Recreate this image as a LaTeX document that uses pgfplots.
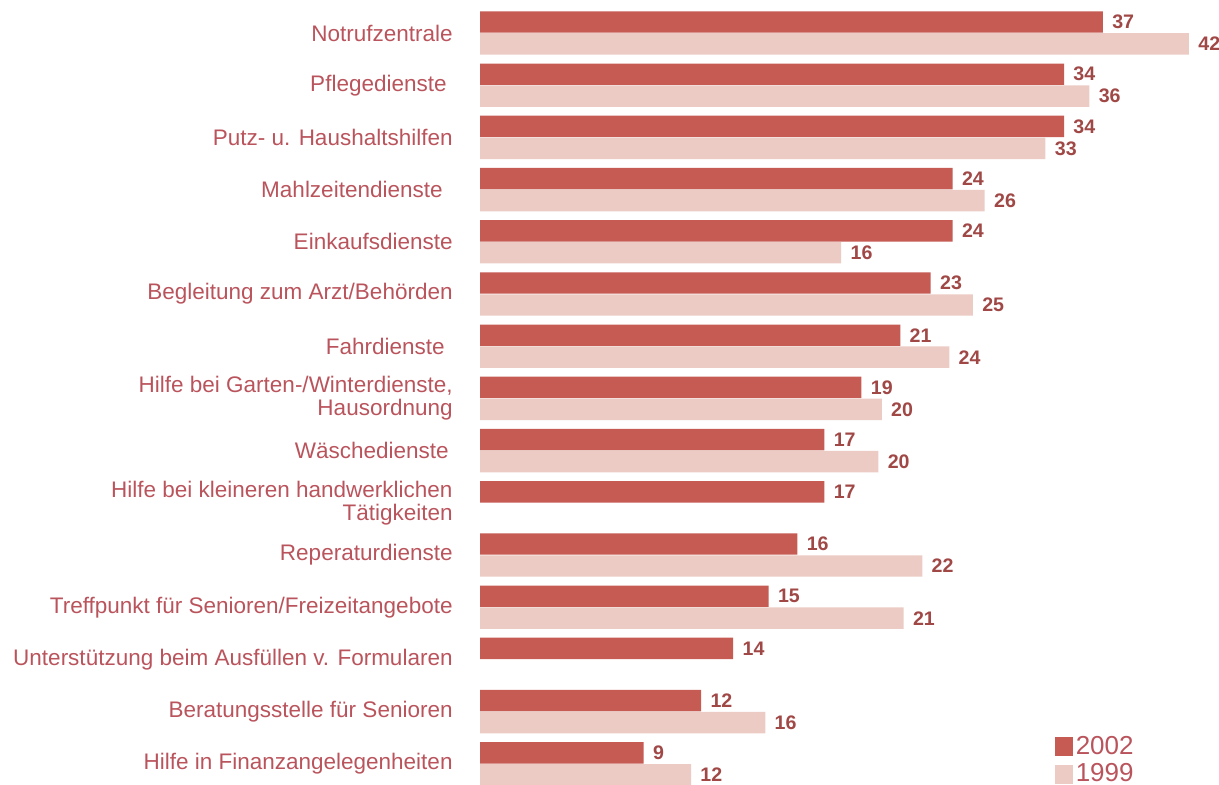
\documentclass[border=0pt]{standalone}
\usepackage{pgfplots}
\usepackage{pgfplotstable}
\pgfplotsset{compat=1.18}
\usepackage{fontspec}
\setmainfont{Liberation Sans}
\definecolor{barA}{RGB}{197,91,83}
\definecolor{barB}{RGB}{235,203,195}
\definecolor{lbl}{RGB}{186,84,92}
\definecolor{val}{RGB}{160,72,70}
\pgfplotstableread{
pos len lab
0 36.9 37
1 34.6 34
2 34.6 34
3 28.0 24
4 28.0 24
5 26.7 23
6 24.9 21
7 22.6 19
8 20.4 17
9 20.4 17
10 18.8 16
11 17.1 15
12 15.0 14
13 13.1 12
14 9.7 9
}\tA
\pgfplotstableread{
pos len lab
0 42.0 42
1 36.1 36
2 33.5 33
3 29.9 26
4 21.4 16
5 29.2 25
6 27.8 24
7 23.8 20
8 23.6 20
10 26.2 22
11 25.1 21
13 16.9 16
14 12.5 12
}\tB
\begin{document}
\begin{tikzpicture}
\useasboundingbox (0,0) rectangle (609.5pt,392.5pt);
\begin{axis}[
  at={(240pt,0pt)}, anchor=south west,
  scale only axis, width=369.5pt, height=392.5pt,
  xmin=0, xmax=43.78,
  ymin=-0.632, ymax=14.406, y dir=reverse,
  xbar, bar width=0.41,
  axis line style={draw=none},
  major tick length=0pt,
  xtick=\empty,
  ytick={0,...,14},
  yticklabels={Notrufzentrale,Pflegedienste\kern3pt,Putz- u. Haushaltshilfen,Mahlzeitendienste\kern5pt,Einkaufsdienste,Begleitung zum Arzt/Behörden,Fahrdienste\kern4pt,{Hilfe bei Garten-/Winterdienste,\\Hausordnung},Wäschedienste\kern2pt,{Hilfe bei kleineren handwerklichen\\Tätigkeiten},Reperaturdienste,Treffpunkt für Senioren/Freizeitangebote,Unterstützung beim Ausfüllen v. Formularen,Beratungsstelle für Senioren,Hilfe in Finanzangelegenheiten},
  yticklabel style={align=right, anchor=east, inner sep=0pt, xshift=-13.5pt, text=lbl, font=\fontsize{11.25pt}{11.5pt}\selectfont},
  clip=false,
  nodes near coords,
  point meta=explicit symbolic,
  every node near coord/.append style={anchor=west, inner sep=0pt, xshift=4.5pt, text=val, font=\bfseries\fontsize{9.8pt}{10pt}\selectfont},
  legend style={draw=none, fill=none, at={(0.778,0.066)}, anchor=north west, font=\fontsize{13pt}{13pt}\selectfont, text=lbl, row sep=0.8pt, inner sep=0pt, nodes={inner sep=1.2pt}, /tikz/every even column/.append style={column sep=1pt}},
  legend cell align=left,
]
\addplot[fill=barA, draw=none, bar shift=-0.21, legend image code/.code={\fill[barA] (0pt,-4.7pt) rectangle (9pt,4.7pt);}] table[x=len, y=pos, meta=lab] {\tA};
\addlegendentry{2002}
\addplot[fill=barB, draw=none, bar shift=0.21, legend image code/.code={\fill[barB] (0pt,-4.7pt) rectangle (9pt,4.7pt);}] table[x=len, y=pos, meta=lab] {\tB};
\addlegendentry{1999}
\end{axis}
\end{tikzpicture}
\end{document}
